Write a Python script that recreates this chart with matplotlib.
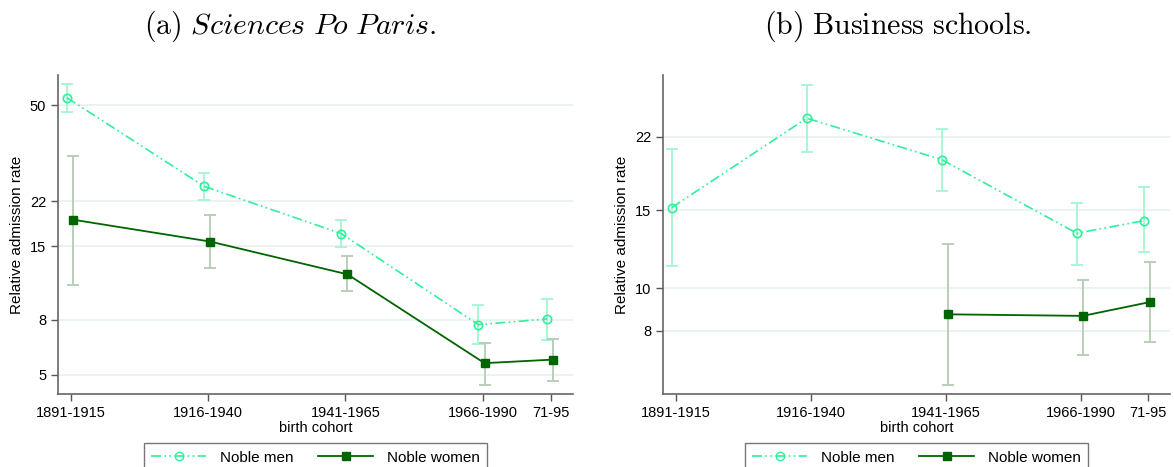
import numpy as np
import matplotlib
matplotlib.use("Agg")
import matplotlib.pyplot as plt
from matplotlib.lines import Line2D

plt.rcParams["font.family"] = ["Liberation Sans", "DejaVu Sans"]
plt.rcParams["mathtext.fontset"] = "cm"

cohorts = ["1891-1915", "1916-1940", "1941-1965", "1966-1990", "71-95"]
xpos = [1, 2, 3, 4, 4.5]

# (a) Sciences Po Paris
spo_men = [53.2, 25.0, 16.7, 7.68, 8.06]
spo_men_lo = [47.2, 22.2, 14.9, 6.50, 6.74]
spo_men_hi = [59.6, 28.1, 18.8, 9.09, 9.53]
spo_women = [18.8, 15.6, 11.8, 5.53, 5.70]
spo_women_lo = [10.8, 12.4, 10.2, 4.60, 4.76]
spo_women_hi = [32.5, 19.6, 13.8, 6.58, 6.79]

# (b) Business schools (no women before 1941)
bus_men = [15.2, 24.2, 19.5, 13.3, 14.2]
bus_men_lo = [11.2, 20.3, 16.6, 11.3, 12.05]
bus_men_hi = [20.6, 28.8, 22.9, 15.6, 16.9]
bus_women = [np.nan, np.nan, 8.72, 8.65, 9.30]
bus_women_lo = [np.nan, np.nan, 6.03, 7.07, 7.54]
bus_women_hi = [np.nan, np.nan, 12.6, 10.4, 11.46]

MEN_C = "#2EF09A"
MEN_ERR = "#A6F5D2"
WOMEN_C = "#006400"
WOMEN_ERR = "#B3CCB3"
MEN_LS = (0, (6, 2, 1, 2, 1, 2))


def draw_panel(ax, men, mlo, mhi, women, wlo, whi, yticks, ylim):
    x = np.array(xpos)
    men, mlo, mhi = map(np.array, (men, mlo, mhi))
    women, wlo, whi = map(np.array, (women, wlo, whi))
    xm = x - 0.03
    xw = x + 0.015
    ax.errorbar(xm, men, yerr=[men - mlo, mhi - men], fmt="none",
                ecolor=MEN_ERR, elinewidth=1.3, capsize=4, capthick=1.3, zorder=2)
    ax.errorbar(xw, women, yerr=[women - wlo, whi - women], fmt="none",
                ecolor=WOMEN_ERR, elinewidth=1.3, capsize=4, capthick=1.3, zorder=2)
    ax.plot(xm, men, color=MEN_C, linestyle=MEN_LS, linewidth=1.2,
            marker="o", markersize=6, markerfacecolor="none",
            markeredgecolor=MEN_C, markeredgewidth=1.2, zorder=3)
    ax.plot(xw, women, color=WOMEN_C, linestyle="-", linewidth=1.3,
            marker="s", markersize=6, markerfacecolor=WOMEN_C,
            markeredgecolor=WOMEN_C, zorder=3)
    ax.set_yscale("log")
    ax.set_ylim(*ylim)
    ax.set_xlim(0.905, 4.66)
    ax.set_yticks(yticks)
    ax.set_yticklabels([str(t) for t in yticks])
    ax.yaxis.set_minor_locator(matplotlib.ticker.NullLocator())
    ax.set_xticks(xpos)
    ax.set_xticklabels(cohorts)
    ax.tick_params(axis="both", labelsize=10.5, color="#555555", length=5, width=1)
    ax.grid(axis="y", color="#E6F0F0", linewidth=1.2, zorder=0)
    ax.set_axisbelow(True)
    for s in ("top", "right"):
        ax.spines[s].set_visible(False)
    for s in ("left", "bottom"):
        ax.spines[s].set_color("#666666")
        ax.spines[s].set_linewidth(1.2)
    ax.set_ylabel("Relative admission rate", fontsize=11)
    ax.set_xlabel("birth cohort", fontsize=10.5, labelpad=1)

    handles = [
        Line2D([], [], color=MEN_C, linestyle=MEN_LS, linewidth=1.2, marker="o",
               markersize=6, markerfacecolor="none", markeredgecolor=MEN_C),
        Line2D([], [], color=WOMEN_C, linestyle="-", linewidth=1.3, marker="s",
               markersize=6, markerfacecolor=WOMEN_C),
    ]
    leg = ax.legend(handles, ["Noble men", "Noble women"], loc="upper center",
                    bbox_to_anchor=(0.5, -0.1536), ncol=2, frameon=True,
                    fancybox=False, edgecolor="#555555", fontsize=11,
                    handlelength=3.6, columnspacing=1.6, borderpad=0.5,
                    borderaxespad=0, handletextpad=0.9)
    leg.get_frame().set_linewidth(1.0)


fig = plt.figure(figsize=(11.74, 4.67), dpi=100)
ax1 = fig.add_axes([0.0494, 0.1563, 0.4387, 0.6831])
ax2 = fig.add_axes([0.5647, 0.1563, 0.4319, 0.6831])

draw_panel(ax1, spo_men, spo_men_lo, spo_men_hi, spo_women, spo_women_lo,
           spo_women_hi, [5, 8, 15, 22, 50], (4.25, 64.6))
draw_panel(ax2, bus_men, bus_men_lo, bus_men_hi, bus_women, bus_women_lo,
           bus_women_hi, [8, 10, 15, 22], (5.76, 30.3))

fig.text(0.247, 0.943, r"$\mathrm{(a)}\ \mathit{Sciences\ Po\ Paris.}$",
         ha="center", va="center", fontsize=21.5)
fig.text(0.7645, 0.943, r"$\mathrm{(b)\ Business\ schools.}$",
         ha="center", va="center", fontsize=21.5)

fig.savefig("out.png", dpi=100)
